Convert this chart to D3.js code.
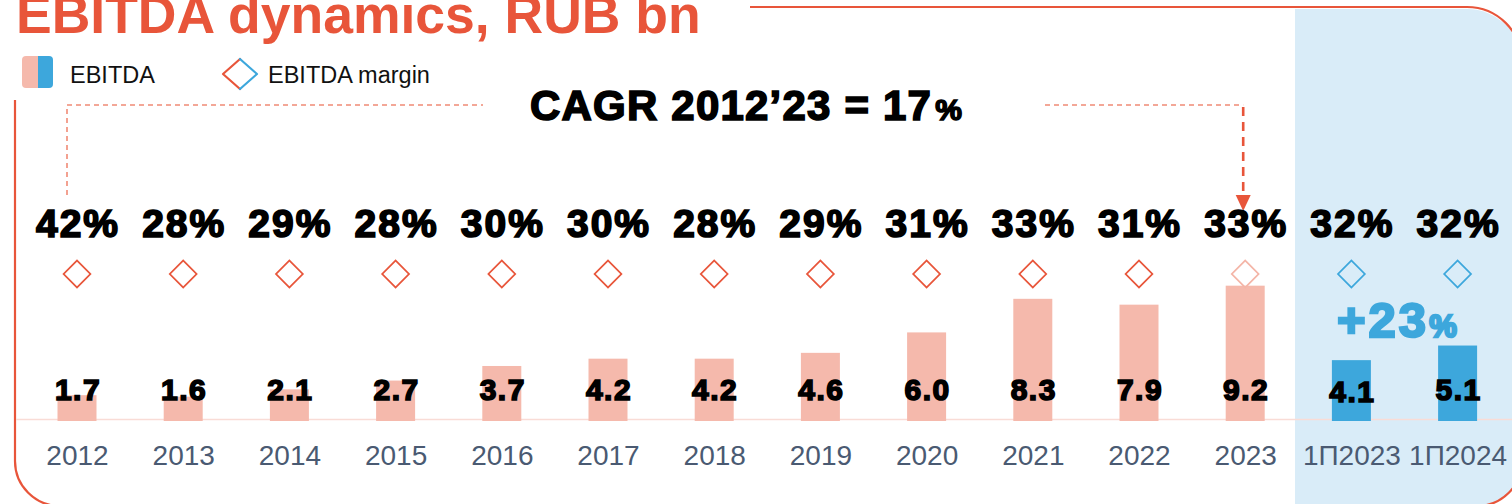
<!DOCTYPE html>
<html>
<head>
<meta charset="utf-8">
<script src="https://cdn.jsdelivr.net/npm/d3@7"></script>
<style>
  html, body { margin: 0; padding: 0; background: #ffffff; }
  svg { display: block; font-family: "Liberation Sans", Arial, sans-serif; }
</style>
</head>
<body>
<svg id="chart" width="1512" height="504"></svg>
<script>
// ---- data ----
const categories = ["2012","2013","2014","2015","2016","2017","2018","2019","2020","2021","2022","2023","1П2023","1П2024"];
const ebitda = [1.7, 1.6, 2.1, 2.7, 3.7, 4.2, 4.2, 4.6, 6.0, 8.3, 7.9, 9.2, 4.1, 5.1];
const margin = [42, 28, 29, 28, 30, 30, 28, 29, 31, 33, 31, 33, 32, 32];
const halfYear = [false,false,false,false,false,false,false,false,false,false,false,false,true,true];
const titleText = "EBITDA dynamics, RUB bn";
const legendLabels = ["EBITDA", "EBITDA margin"];
const cagrText = "CAGR 2012’23 = 17";
const growthText = "+23";

// ---- style ----
const RED = "#e8553a", PINK = "#f5b9ac", BLUE = "#3da7dc", PANEL = "#d9ecf8",
      LIGHT_DIAMOND = "#f4b5a7", AXIS_TXT = "#4a5a72", DASH = "#f08a76", BASE = "#f9dcd6";

const svg = d3.select("#chart");

const x = d3.scalePoint().domain(categories).range([77, 1457.6]);
const y = d3.scaleLinear().domain([0, 10]).range([420, 274]);
const barW = 39;
const diamondY = 274;

// blue highlighted panel (half-year)
const frameR = 1522, topR = 55, botY = 506, brR = 45;
svg.append("path")
  .attr("d", `M1295,9 H${frameR - topR} A${topR},${topR} 0 0 1 ${frameR},${9 + topR} V${botY - brR} A${brR},${brR} 0 0 1 ${frameR - brR},${botY} H1295 Z`)
  .attr("fill", PANEL);

// frame
svg.append("path")
  .attr("d", `M750,7 H${frameR - topR} A${topR},${topR} 0 0 1 ${frameR},${7 + topR} V${botY - brR} A${brR},${brR} 0 0 1 ${frameR - brR},${botY} H${15 + 45} A45,45 0 0 1 15,${botY - 45} V100`)
  .attr("fill", "none").attr("stroke", RED).attr("stroke-width", 2.2);

// title
svg.append("text").attr("x", 16).attr("y", 33)
  .attr("font-size", 53.5).attr("font-weight", "bold").attr("fill", RED)
  .text(titleText);

// legend
const defs = svg.append("defs");
defs.append("clipPath").attr("id", "swclip")
  .append("rect").attr("x", 22).attr("y", 56).attr("width", 31).attr("height", 32).attr("rx", 4);
const sw = svg.append("g").attr("clip-path", "url(#swclip)");
sw.append("rect").attr("x", 22).attr("y", 56).attr("width", 16).attr("height", 32).attr("fill", PINK);
sw.append("rect").attr("x", 38).attr("y", 56).attr("width", 15).attr("height", 32).attr("fill", BLUE);
svg.append("text").attr("x", 70).attr("y", 83).attr("font-size", 23.5).attr("fill", "#111").text(legendLabels[0]);

svg.append("path").attr("d", "M240,59 L223,74 L240,89")
  .attr("fill", "none").attr("stroke", RED).attr("stroke-width", 2.2).attr("stroke-linejoin", "round").attr("stroke-linecap", "round");
svg.append("path").attr("d", "M240,59 L257,74 L240,89")
  .attr("fill", "none").attr("stroke", BLUE).attr("stroke-width", 2.2).attr("stroke-linejoin", "round").attr("stroke-linecap", "round");
svg.append("text").attr("x", 268).attr("y", 83).attr("font-size", 23.5).attr("fill", "#111").text(legendLabels[1]);

// CAGR annotation
const lx = x(categories[0]) - 10, rx = x("2023") - 2, topY = 105;
svg.append("path").attr("d", `M${lx},195 V${topY} H483`)
  .attr("fill", "none").attr("stroke", DASH).attr("stroke-width", 1.6).attr("stroke-dasharray", "5,4");
svg.append("path").attr("d", `M1045,${topY} H${rx}`)
  .attr("fill", "none").attr("stroke", DASH).attr("stroke-width", 1.6).attr("stroke-dasharray", "5,4");
svg.append("path").attr("d", `M${rx},${topY + 2} V196`)
  .attr("fill", "none").attr("stroke", RED).attr("stroke-width", 2.6).attr("stroke-dasharray", "9,6");
svg.append("path").attr("d", `M${rx - 7.5},195 L${rx + 7.5},195 L${rx},211 Z`).attr("fill", RED);

const cagr = svg.append("text").attr("x", 530).attr("y", 120)
  .attr("font-weight", "bold").attr("fill", "#000").attr("stroke", "#000").attr("stroke-width", 1.6);
cagr.append("tspan").attr("font-size", 42).attr("letter-spacing", 1.2).text(cagrText);
cagr.append("tspan").attr("font-size", 30).attr("dx", 3).text("%");

// baseline
svg.append("line").attr("x1", 16).attr("x2", 1512).attr("y1", 419.5).attr("y2", 419.5)
  .attr("stroke", BASE).attr("stroke-width", 1.5);

// bars
svg.append("g").selectAll("rect").data(categories).join("rect")
  .attr("x", d => x(d) - barW / 2)
  .attr("y", (d, i) => y(ebitda[i]))
  .attr("width", barW)
  .attr("height", (d, i) => y(0) - y(ebitda[i]) + 1)
  .attr("fill", (d, i) => halfYear[i] ? BLUE : PINK);

// diamonds
const diamond = d3.symbol(d3.symbolSquare, 19 * 19);
svg.append("g").selectAll("path").data(categories).join("path")
  .attr("d", diamond)
  .attr("transform", d => `translate(${x(d)},${diamondY}) rotate(45)`)
  .attr("fill", "none")
  .attr("stroke-width", 1.7)
  .attr("stroke", (d, i) => halfYear[i] ? BLUE : (d === "2023" ? LIGHT_DIAMOND : RED));

// margin labels
svg.append("g").selectAll("text").data(categories).join("text")
  .attr("x", d => x(d) + 1).attr("y", 237)
  .attr("text-anchor", "middle")
  .attr("font-size", 39).attr("font-weight", "bold").attr("letter-spacing", 2)
  .attr("fill", "#000").attr("stroke", "#000").attr("stroke-width", 1.7)
  .text((d, i) => margin[i] + "%");

// value labels
svg.append("g").selectAll("text").data(categories).join("text")
  .attr("x", d => x(d) + 1).attr("y", (d, i) => i === 12 ? 402 : 400)
  .attr("text-anchor", "middle")
  .attr("font-size", 30).attr("font-weight", "bold").attr("letter-spacing", 1.5)
  .attr("fill", "#000").attr("stroke", "#000").attr("stroke-width", 1.6)
  .text((d, i) => ebitda[i].toFixed(1));

// x axis labels
const xAxis = d3.axisBottom(x).tickSize(0).tickPadding(0);
const ax = svg.append("g").attr("transform", "translate(0,444)").call(xAxis);
ax.select(".domain").remove();
ax.selectAll("text")
  .attr("font-family", "Liberation Sans, Arial, sans-serif")
  .attr("font-size", 28).attr("fill", AXIS_TXT).attr("dy", null).attr("y", 21);

// growth annotation
const g23 = svg.append("text").attr("x", 1337).attr("y", 337)
  .attr("font-weight", "bold").attr("fill", BLUE).attr("stroke", BLUE).attr("stroke-width", 2.4);
g23.append("tspan").attr("font-size", 49).attr("letter-spacing", 3).text(growthText);
g23.append("tspan").attr("font-size", 31).attr("dx", 0).text("%");
</script>
</body>
</html>
